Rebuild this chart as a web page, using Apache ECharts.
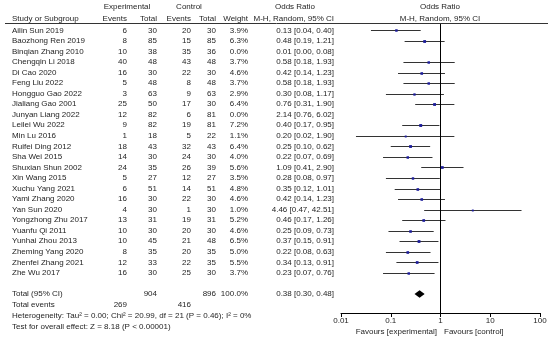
<!DOCTYPE html>
<html><head><meta charset="utf-8">
<script src="https://cdn.jsdelivr.net/npm/echarts@6/dist/echarts.min.js"></script>
<style>html,body{margin:0;padding:0;background:#fff}#c{width:550px;height:339px}</style>
</head><body><div id="c"></div>
<script>
const studies = ["Ailin Sun 2019","Baozhong Ren 2019","Binqian Zhang 2010","Chengqin Li 2018","Di Cao 2020","Feng Liu 2022","Hongguo Gao 2022","Jialiang Gao 2001","Junyan Liang 2022","Leilei Wu 2022","Min Lu 2016","Ruifei Ding 2012","Sha Wei 2015","Shuxian Shun 2002","Xin Wang 2015","Xuchu Yang 2021","Yami Zhang 2020","Yan Sun 2020","Yongzhong Zhu 2017","Yuanfu Qi 2011","Yunhai Zhou 2013","Zheming Yang 2020","Zhenfei Zhang 2021","Zhe Wu 2017"];
const expEvents = [6,8,10,40,16,5,3,25,12,9,1,18,14,24,5,6,16,4,13,10,10,8,12,16];
const expTotal = [30,85,38,48,30,48,63,50,82,82,18,43,30,35,27,51,30,30,31,30,45,35,33,30];
const ctrlEvents = [20,15,35,43,22,8,9,17,6,19,5,32,24,26,12,14,22,1,19,20,21,20,22,25];
const ctrlTotal = [30,85,36,48,30,48,63,30,81,81,22,43,30,39,27,51,30,30,31,30,48,35,35,30];
const weights = [3.9,6.3,0.0,3.7,4.6,3.7,2.9,6.4,0.0,7.2,1.1,6.4,4.0,5.6,3.5,4.8,4.6,1.0,5.2,4.6,6.5,5.0,5.5,3.7];
const oddsRatio = [0.13,0.48,0.01,0.58,0.42,0.58,0.30,0.76,2.14,0.40,0.20,0.25,0.22,1.09,0.28,0.35,0.42,4.46,0.46,0.25,0.37,0.22,0.34,0.23];
const ciLow = [0.04,0.19,0.00,0.18,0.14,0.18,0.08,0.31,0.76,0.17,0.02,0.10,0.07,0.41,0.08,0.12,0.14,0.47,0.17,0.09,0.15,0.08,0.13,0.07];
const ciHigh = [0.40,1.21,0.08,1.93,1.23,1.93,1.17,1.90,6.02,0.95,1.90,0.62,0.69,2.90,0.97,1.01,1.23,42.51,1.26,0.73,0.91,0.63,0.91,0.76];
const totalRow = {label:"Total (95% CI)", expTotal:904, ctrlTotal:896, weight:100.0, or:0.38, lo:0.30, hi:0.48};
const totalEvents = {label:"Total events", exp:269, ctrl:416};
const heterogeneityText = "Heterogeneity: Tau\u00b2 = 0.00; Chi\u00b2 = 20.99, df = 21 (P = 0.46); I\u00b2 = 0%";
const overallEffectText = "Test for overall effect: Z = 8.18 (P < 0.00001)";
const tickLabels = {"0.01":"0.01","0.1":"0.1","1":"1","10":"10","100":"100"};
const favoursLeft = "Favours [experimental]";
const favoursRight = "Favours [control]";

// layout constants
const FONT = '8px "Liberation Sans", Arial, sans-serif';
const TXT = '#1e1e1e';
const Y_MIN = -0.6, Y_MAX = 26.8;
const COL = {study:12, expEv:127, expTot:157, ctrlEv:191, ctrlTot:216, weight:248, ci:334, expHead:127, ctrlHead:189, orHead:295, plotHead:440, favL:437, favR:444};
const ROW_HEAD1 = -2.2, ROW_HEAD2 = -1.08, ROW_TOTAL = 25, ROW_EVENTS = 26.05, ROW_HET = 27.1, ROW_TEST = 28.1, ROW_FAV = 28.6;

const fmt = v => v.toFixed(2);
const ciText = (o,l,h) => fmt(o) + " [" + fmt(l) + ", " + fmt(h) + "]";

const textItems = [];
function t(x, y, s, align){ textItems.push([x, y, s, align]); }
// headers
t(COL.expHead, ROW_HEAD1, "Experimental", "center");
t(COL.ctrlHead, ROW_HEAD1, "Control", "center");
t(COL.orHead, ROW_HEAD1, "Odds Ratio", "center");
t(COL.plotHead, ROW_HEAD1, "Odds Ratio", "center");
t(COL.study, ROW_HEAD2, "Study or Subgroup", "left");
t(COL.expEv, ROW_HEAD2, "Events", "right");
t(COL.expTot, ROW_HEAD2, "Total", "right");
t(COL.ctrlEv, ROW_HEAD2, "Events", "right");
t(COL.ctrlTot, ROW_HEAD2, "Total", "right");
t(COL.weight, ROW_HEAD2, "Weight", "right");
t(COL.ci, ROW_HEAD2, "M-H, Random, 95% CI", "right");
t(COL.plotHead, ROW_HEAD2, "M-H, Random, 95% CI", "center");
studies.forEach((s, i) => {
  t(COL.study, i, s, "left");
  t(COL.expEv, i, String(expEvents[i]), "right");
  t(COL.expTot, i, String(expTotal[i]), "right");
  t(COL.ctrlEv, i, String(ctrlEvents[i]), "right");
  t(COL.ctrlTot, i, String(ctrlTotal[i]), "right");
  t(COL.weight, i, weights[i].toFixed(1) + "%", "right");
  t(COL.ci, i, ciText(oddsRatio[i], ciLow[i], ciHigh[i]), "right");
});
t(COL.study, ROW_TOTAL, totalRow.label, "left");
t(COL.expTot, ROW_TOTAL, String(totalRow.expTotal), "right");
t(COL.ctrlTot, ROW_TOTAL, String(totalRow.ctrlTotal), "right");
t(COL.weight, ROW_TOTAL, totalRow.weight.toFixed(1) + "%", "right");
t(COL.ci, ROW_TOTAL, ciText(totalRow.or, totalRow.lo, totalRow.hi), "right");
t(COL.study, ROW_EVENTS, totalEvents.label, "left");
t(COL.expEv, ROW_EVENTS, String(totalEvents.exp), "right");
t(COL.ctrlEv, ROW_EVENTS, String(totalEvents.ctrl), "right");
t(COL.study, ROW_HET, heterogeneityText, "left");
t(COL.study, ROW_TEST, overallEffectText, "left");
t(COL.favL, ROW_FAV, favoursLeft, "right");
t(COL.favR, ROW_FAV, favoursRight, "left");

const ciData = [];
studies.forEach((s, i) => { if (weights[i] > 0) ciData.push([ciLow[i], ciHigh[i], oddsRatio[i], i, weights[i]]); });

const chart = echarts.init(document.getElementById('c'), null, {renderer:'canvas'});
chart.setOption({
  animation:false,
  backgroundColor:'#fff',
  grid:[
    {left:341, right:10, top:24, bottom:26},
    {left:0, right:0, top:24, bottom:26}
  ],
  xAxis:[
    {gridIndex:0, type:'log', logBase:10, min:0.01, max:100,
     axisLine:{show:true, onZero:false, lineStyle:{color:'#000', width:1}},
     axisTick:{show:true, length:4, lineStyle:{color:'#000'}},
     minorTick:{show:false}, splitLine:{show:false},
     axisLabel:{fontSize:8, color:TXT, margin:4, fontFamily:'"Liberation Sans", Arial', showMinLabel:true, showMaxLabel:true,
       formatter: v => { const k = String(+v.toPrecision(3)); return tickLabels[k] !== undefined ? tickLabels[k] : ''; }}},
    {gridIndex:1, type:'value', min:0, max:550, show:false}
  ],
  yAxis:[
    {gridIndex:0, type:'value', inverse:true, min:Y_MIN, max:Y_MAX, show:false},
    {gridIndex:1, type:'value', inverse:true, min:Y_MIN, max:Y_MAX, show:false}
  ],
  graphic:[
    {type:'line', shape:{x1:5, y1:23.5, x2:548, y2:23.5}, style:{stroke:'#333', lineWidth:1}, z:10}
  ],
  series:[
    {type:'line', xAxisIndex:0, yAxisIndex:0, data:[], silent:true,
     markLine:{symbol:'none', silent:true, label:{show:false},
       lineStyle:{color:'#000', type:'solid', width:1}, data:[{xAxis:1}]}},
    {type:'custom', xAxisIndex:0, yAxisIndex:0, silent:true, clip:false, data:ciData,
     renderItem:(params, api) => {
       const row = api.value(3);
       const a = api.coord([api.value(0), row]);
       const b = api.coord([api.value(1), row]);
       const c = api.coord([api.value(2), row]);
       const s = 1.3 + Math.sqrt(api.value(4)) * 0.6;
       return {type:'group', children:[
         {type:'line', shape:{x1:a[0], y1:Math.round(a[1])+0.5, x2:b[0], y2:Math.round(a[1])+0.5}, style:{stroke:'#333', lineWidth:1}},
         {type:'rect', shape:{x:c[0]-s/2, y:Math.round(a[1])+0.5-s/2, width:s, height:s}, style:{fill:'#1c1c9a'}}
       ]};
     }},
    {type:'custom', xAxisIndex:0, yAxisIndex:0, silent:true, clip:false,
     data:[[totalRow.lo, totalRow.hi, totalRow.or, ROW_TOTAL]],
     renderItem:(params, api) => {
       const row = api.value(3);
       const a = api.coord([api.value(0), row]);
       const b = api.coord([api.value(1), row]);
       const c = api.coord([api.value(2), row]);
       const h = 3.8;
       return {type:'polygon', shape:{points:[[a[0], a[1]], [c[0], c[1]-h], [b[0], b[1]], [c[0], c[1]+h]]}, style:{fill:'#000'}};
     }},
    {type:'custom', xAxisIndex:1, yAxisIndex:1, silent:true, clip:false, data:textItems,
     dimensions:['x','y','text','align'],
     encode:{x:0, y:1},
     renderItem:(params, api) => {
       const item = textItems[params.dataIndex];
       const p = api.coord([item[0], item[1]]);
       return {type:'text', x:p[0], y:p[1], style:{text:item[2], textAlign:item[3], textVerticalAlign:'middle', font:FONT, fill:TXT}};
     }}
  ]
});
</script></body></html>
